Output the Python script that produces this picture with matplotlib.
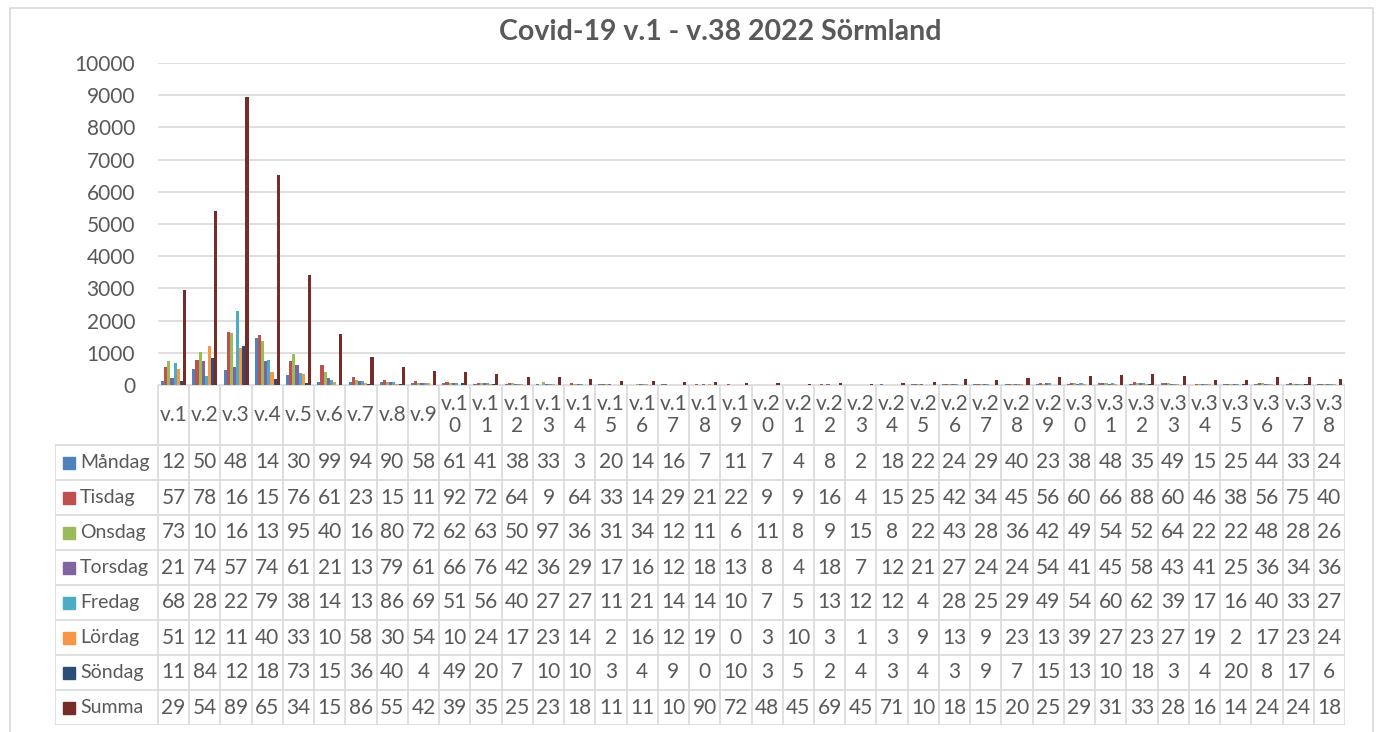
import matplotlib
matplotlib.use("Agg")
import matplotlib.pyplot as plt
from matplotlib.patches import Rectangle

plt.rcParams['font.family'] = ['Lato', 'DejaVu Sans']

weeks = ["v.%d" % i for i in range(1, 39)]

mandag = [125, 500, 480, 1470, 300, 99, 94, 90, 58, 61, 41, 38, 33, 3, 20, 14, 16, 7, 11,
          7, 4, 8, 2, 18, 22, 24, 29, 40, 23, 38, 48, 35, 49, 15, 25, 44, 33, 24]
tisdag = [570, 780, 1640, 1560, 760, 610, 235, 150, 110, 92, 72, 64, 9, 64, 33, 14, 29, 21, 22,
          9, 9, 16, 4, 15, 25, 42, 34, 45, 56, 60, 66, 88, 60, 46, 38, 56, 75, 40]
onsdag = [730, 1040, 1610, 1380, 950, 400, 168, 80, 72, 62, 63, 50, 97, 36, 31, 34, 12, 11, 6,
          11, 8, 9, 15, 8, 22, 43, 28, 36, 42, 49, 54, 52, 64, 22, 22, 48, 28, 26]
torsdag = [215, 745, 570, 740, 610, 210, 135, 79, 61, 66, 76, 42, 36, 29, 17, 16, 12, 18, 13,
           8, 4, 18, 7, 12, 21, 27, 24, 24, 54, 41, 45, 58, 43, 41, 25, 36, 34, 36]
fredag = [680, 280, 2290, 790, 380, 140, 135, 86, 69, 51, 56, 40, 27, 27, 11, 21, 14, 14, 10,
          7, 5, 13, 12, 12, 4, 28, 25, 29, 49, 54, 60, 62, 39, 17, 16, 40, 33, 27]
lordag = [510, 1220, 1140, 400, 330, 100, 58, 30, 54, 10, 24, 17, 23, 14, 2, 16, 12, 19, 0,
          3, 10, 3, 1, 3, 9, 13, 9, 23, 13, 39, 27, 23, 27, 19, 2, 17, 23, 24]
sondag = [110, 845, 1200, 180, 73, 15, 36, 40, 4, 49, 20, 7, 10, 10, 3, 4, 9, 0, 10,
          3, 5, 2, 4, 3, 4, 3, 9, 7, 15, 13, 10, 18, 3, 4, 20, 8, 17, 6]
summa = [sum(v) for v in zip(mandag, tisdag, onsdag, torsdag, fredag, lordag, sondag)]

series = [("Måndag", mandag, "#4F81BD"),
          ("Tisdag", tisdag, "#C0504D"),
          ("Onsdag", onsdag, "#9BBB59"),
          ("Torsdag", torsdag, "#8064A2"),
          ("Fredag", fredag, "#4BACC6"),
          ("Lördag", lordag, "#F79646"),
          ("Söndag", sondag, "#2C4D75"),
          ("Summa", summa, "#772C2A")]

W, H = 1376, 732
txt = "#595959"
grid = "#D9D9D9"
fs = 15
fig = plt.figure(figsize=(W / 100, H / 100), dpi=100)

# outer chart border
fig.patches.append(Rectangle((10 / W, -0.02), 1363 / W, 1 - 8 / H + 0.02,
                             transform=fig.transFigure, fill=False,
                             edgecolor=grid, linewidth=1.2))

x0, x1 = 158, 1345
y_top, y_base = 63, 385
ax = fig.add_axes([x0 / W, 1 - y_base / H, (x1 - x0) / W, (y_base - y_top) / H])
n = len(weeks)
bw = 0.1
for k, (name, vals, col) in enumerate(series):
    ax.bar([i + (k - 3.5) * bw for i in range(n)], vals, width=bw, color=col)
ax.set_xlim(-0.5, n - 0.5)
ax.set_ylim(0, 10000)
ax.set_yticks(range(0, 10001, 1000))
ax.tick_params(axis='y', length=0, pad=16.5, labelsize=fs, labelcolor=txt)
ax.set_xticks([])
ax.yaxis.grid(True, color=grid, linewidth=1.2)
ax.set_axisbelow(True)
for s in ax.spines.values():
    s.set_visible(False)

fig.text(720 / W, 1 - 32 / H, "Covid-19 v.1 - v.38 2022 Sörmland", ha='center', va='center',
         fontsize=20.5, fontweight='bold', color=txt)

# data table
cw = (x1 - x0) / n
lab_w = (x0 - 55) / cw
hdr = 60
rh = 35
tb_bottom = y_base + hdr + rh * len(series)
tax = fig.add_axes([55 / W, 1 - tb_bottom / H, (x1 - 55) / W, (tb_bottom - y_base) / H])
tax.set_xlim(-0.5 - lab_w, n - 0.5)
tax.set_ylim(tb_bottom - y_base, 0)
tax.axis('off')

tax.plot([-0.5, n - 0.5], [0, 0], color=grid, lw=1.2)
for i in range(n + 1):
    tax.plot([i - 0.5, i - 0.5], [0, tb_bottom - y_base], color=grid, lw=1.2)
tax.plot([-0.5 - lab_w] * 2, [hdr, tb_bottom - y_base], color=grid, lw=1.2)
for r in range(len(series) + 1):
    tax.plot([-0.5 - lab_w, n - 0.5], [hdr + r * rh] * 2, color=grid, lw=1.2)

for i, w in enumerate(weeks):
    label = w if len(w) <= 3 else w[:3] + "\n" + w[3:]
    tax.text(i, hdr / 2, label, ha='center', va='center', fontsize=fs, color=txt,
             linespacing=1.15, multialignment='center')

for r, (name, vals, col) in enumerate(series):
    yc = hdr + r * rh + rh / 2
    tax.add_patch(Rectangle((-0.5 - lab_w + 8 / cw, yc - 6), 12 / cw, 12, color=col))
    tax.text(-0.5 - lab_w + 25 / cw, yc, name, ha='left', va='center', fontsize=14, color=txt)
    for i, v in enumerate(vals):
        # the cells are too narrow, so only the first two characters show
        tax.text(i, yc, str(v)[:2], ha='center', va='center', fontsize=fs, color=txt)

fig.savefig("out.png", dpi=100)
